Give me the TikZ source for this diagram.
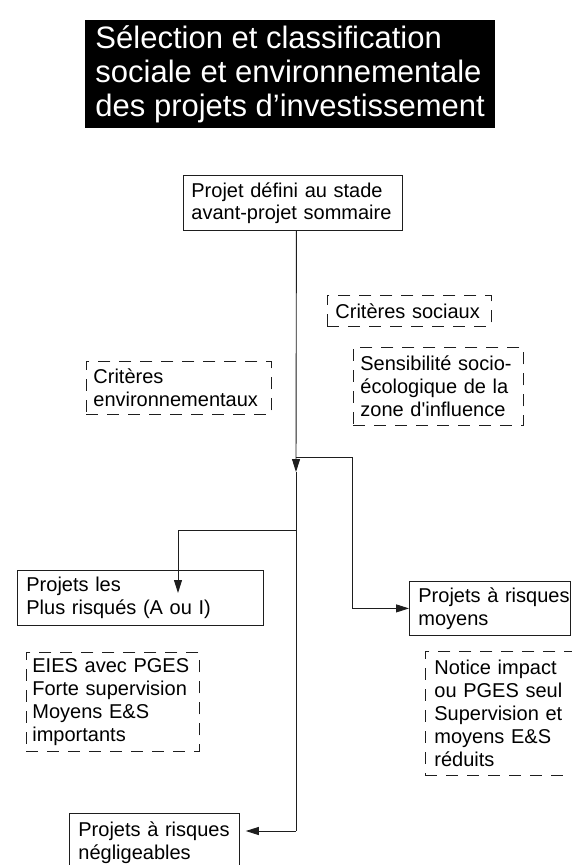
\documentclass[tikz,border=0pt]{standalone}
\usepackage{fontspec}
\newfontfamily\arial{Liberation Sans}
\usetikzlibrary{arrows.meta}
\definecolor{linec}{HTML}{1E1E1E}
\tikzset{
  x=1pt, y=-1pt,
  bodytext/.style={font=\arial\fontsize{20}{23}\selectfont, text=black},
  box/.style={draw=linec, line width=0.8pt, anchor=north west, inner ysep=0pt,
              align=left, bodytext},
  dbox/.style={box, dash pattern=on 12pt off 9pt},
  conn/.style={draw=linec, line width=0.9pt},
  tip/.style={-{Triangle[length=13pt,width=8pt]}},
}
\begin{document}
\begin{tikzpicture}
\useasboundingbox[fill=white] (0,0) rectangle (571,865);

% title banner
\node[fill=black, anchor=north west, minimum width=410pt, minimum height=108pt,
      inner xsep=10pt, inner ysep=0pt, align=left, text=white,
      font=\arial\fontsize{31}{34}\selectfont] (title) at (85,20)
  {Sélection et classification\\sociale et environnementale\\des projets d’investissement};

% solid boxes
\node[box, minimum width=219pt, minimum height=55pt, inner xsep=8pt, text width=203pt,
      font=\arial\fontsize{20}{22}\selectfont] (top) at (183,175)
  {Projet défini au stade\\avant-projet~sommaire};
\node[box, minimum width=246pt, minimum height=55pt, inner xsep=9pt, text width=228pt] (plus) at (17,570)
  {Projets les\\Plus risqués (A ou I)};
\node[box, minimum width=161pt, minimum height=54pt, inner xsep=9pt, text width=143pt] (moy) at (409,581)
  {Projets~à~risques\\moyens};
\node[box, minimum width=170pt, minimum height=58pt, inner xsep=9pt, text width=152pt] (negl) at (69,813)
  {Projets~à~risques\\négligeables};

% dashed criteria and measures
\node[dbox, minimum width=185pt, minimum height=53pt, inner xsep=7pt, text width=171pt] (env) at (86,361)
  {Critères\\environnementaux};
\node[dbox, minimum width=164pt, minimum height=31pt, inner xsep=8pt, text width=148pt] (soc) at (327,295)
  {Critères~sociaux};
\node[dbox, minimum width=170pt, minimum height=78pt, inner xsep=7pt, text width=156pt] (sens) at (353,347)
  {Sensibilité~socio-\\écologique de la\\zone~d\char"0027influence};
\node[dbox, minimum width=173pt, minimum height=99pt, inner xsep=6pt, text width=161pt] (eies) at (26,652)
  {EIES avec PGES\\Forte~supervision\\Moyens E\&S\\importants};
\node[dbox, minimum width=150pt, minimum height=124pt, inner xsep=9pt, text width=132pt] (notice) at (425,651)
  {Notice~impact\\ou PGES seul\\Supervision~et\\moyens E\&S\\réduits};

% connectors
\coordinate (s0) at ([xshift=3.5pt]top.south);
\coordinate (jr) at (352,457);
\coordinate (jl) at (178,530);
\coordinate (tipL) at (178,593);
\coordinate (mid) at (296,472);
\coordinate (bot) at (296,831);

\draw[conn, tip] (s0) -- (mid);
\draw[conn] (mid) -- (bot);
\draw[conn, tip] (bot) -- ([shift={(6pt,-18pt)}]negl.north east);
\draw[conn, tip] (s0 |- jr) -- (jr) |- (moy.west);
\draw[conn, tip] (s0 |- jl) -- (jl) -- (tipL);
\end{tikzpicture}
\end{document}
